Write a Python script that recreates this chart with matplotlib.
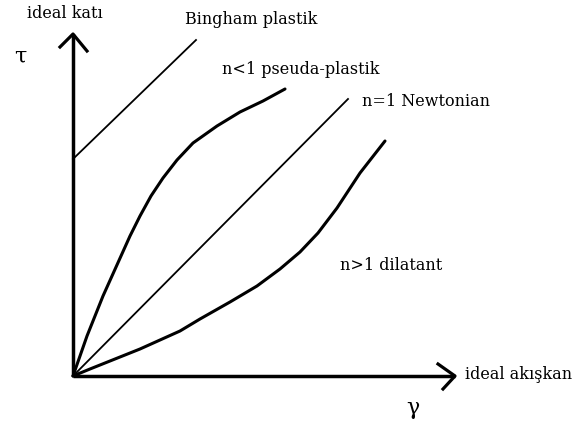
import matplotlib
matplotlib.use('Agg')
import matplotlib.pyplot as plt

# Flow curves: shear stress (tau) vs shear rate (gamma), origin at the corner
newton_gamma = [0, 275]
newton_tau = [0, 277]

bingham_gamma = [0, 123]
bingham_tau = [217, 336]

pseudo_gamma = [0, 7, 14, 22, 30, 39, 48, 57, 67, 78, 90, 104, 120, 144, 167, 190, 212]
pseudo_tau = [0, 20, 40, 60, 80, 100, 120, 140, 160, 180, 198, 216, 233, 250, 264, 275, 287]

dilat_gamma = [0, 17, 42, 67, 107, 127, 157, 184, 207, 227, 245, 264, 287, 312]
dilat_tau = [0, 7, 17, 27, 45, 57, 74, 90, 107, 124, 143, 168, 203, 235]

# axis lengths
gamma_max = 382
tau_max = 342

plt.rcParams['font.family'] = ['DejaVu Serif']

fig = plt.figure(figsize=(5.84, 4.27), dpi=100)
ax = fig.add_axes([0, 0, 1, 1])
ax.set_xlim(-73, 511)
ax.set_ylim(-50, 377)
ax.axis('off')

# axes with open arrowheads
ax.plot([0, gamma_max], [0, 0], color='black', lw=2.5, solid_capstyle='butt')
ax.plot([0, 0], [0, tau_max], color='black', lw=2.5, solid_capstyle='butt')
ax.plot([gamma_max - 17, gamma_max, gamma_max - 12], [12, 0, -13], color='black', lw=2.3)
ax.plot([-13, 0, 14], [tau_max - 13, tau_max, tau_max - 17], color='black', lw=2.3)

# curves
ax.plot(bingham_gamma, bingham_tau, color='black', lw=1.3)
ax.plot(newton_gamma, newton_tau, color='black', lw=1.3)
ax.plot(pseudo_gamma, pseudo_tau, color='black', lw=2.2, solid_capstyle='round', solid_joinstyle='round')
ax.plot(dilat_gamma, dilat_tau, color='black', lw=2.2, solid_capstyle='round', solid_joinstyle='round')

fs = 11.5
ax.text(-8, 364, 'ideal katı', ha='center', va='center', fontsize=fs)
ax.text(-53, 320, 'τ', ha='center', va='center', fontsize=16)
ax.text(112, 357, 'Bingham plastik', ha='left', va='center', fontsize=fs)
ax.text(149, 308, 'n<1 pseuda-plastik', ha='left', va='center', fontsize=fs)
ax.text(289, 275, 'n=1 Newtonian', ha='left', va='center', fontsize=fs)
ax.text(267, 112, 'n>1 dilatant', ha='left', va='center', fontsize=fs)
ax.text(392, 2, 'ideal akışkan', ha='left', va='center', fontsize=fs)
ax.text(340, -31, 'γ', ha='center', va='center', fontsize=16)

fig.savefig('out.png', dpi=100)
